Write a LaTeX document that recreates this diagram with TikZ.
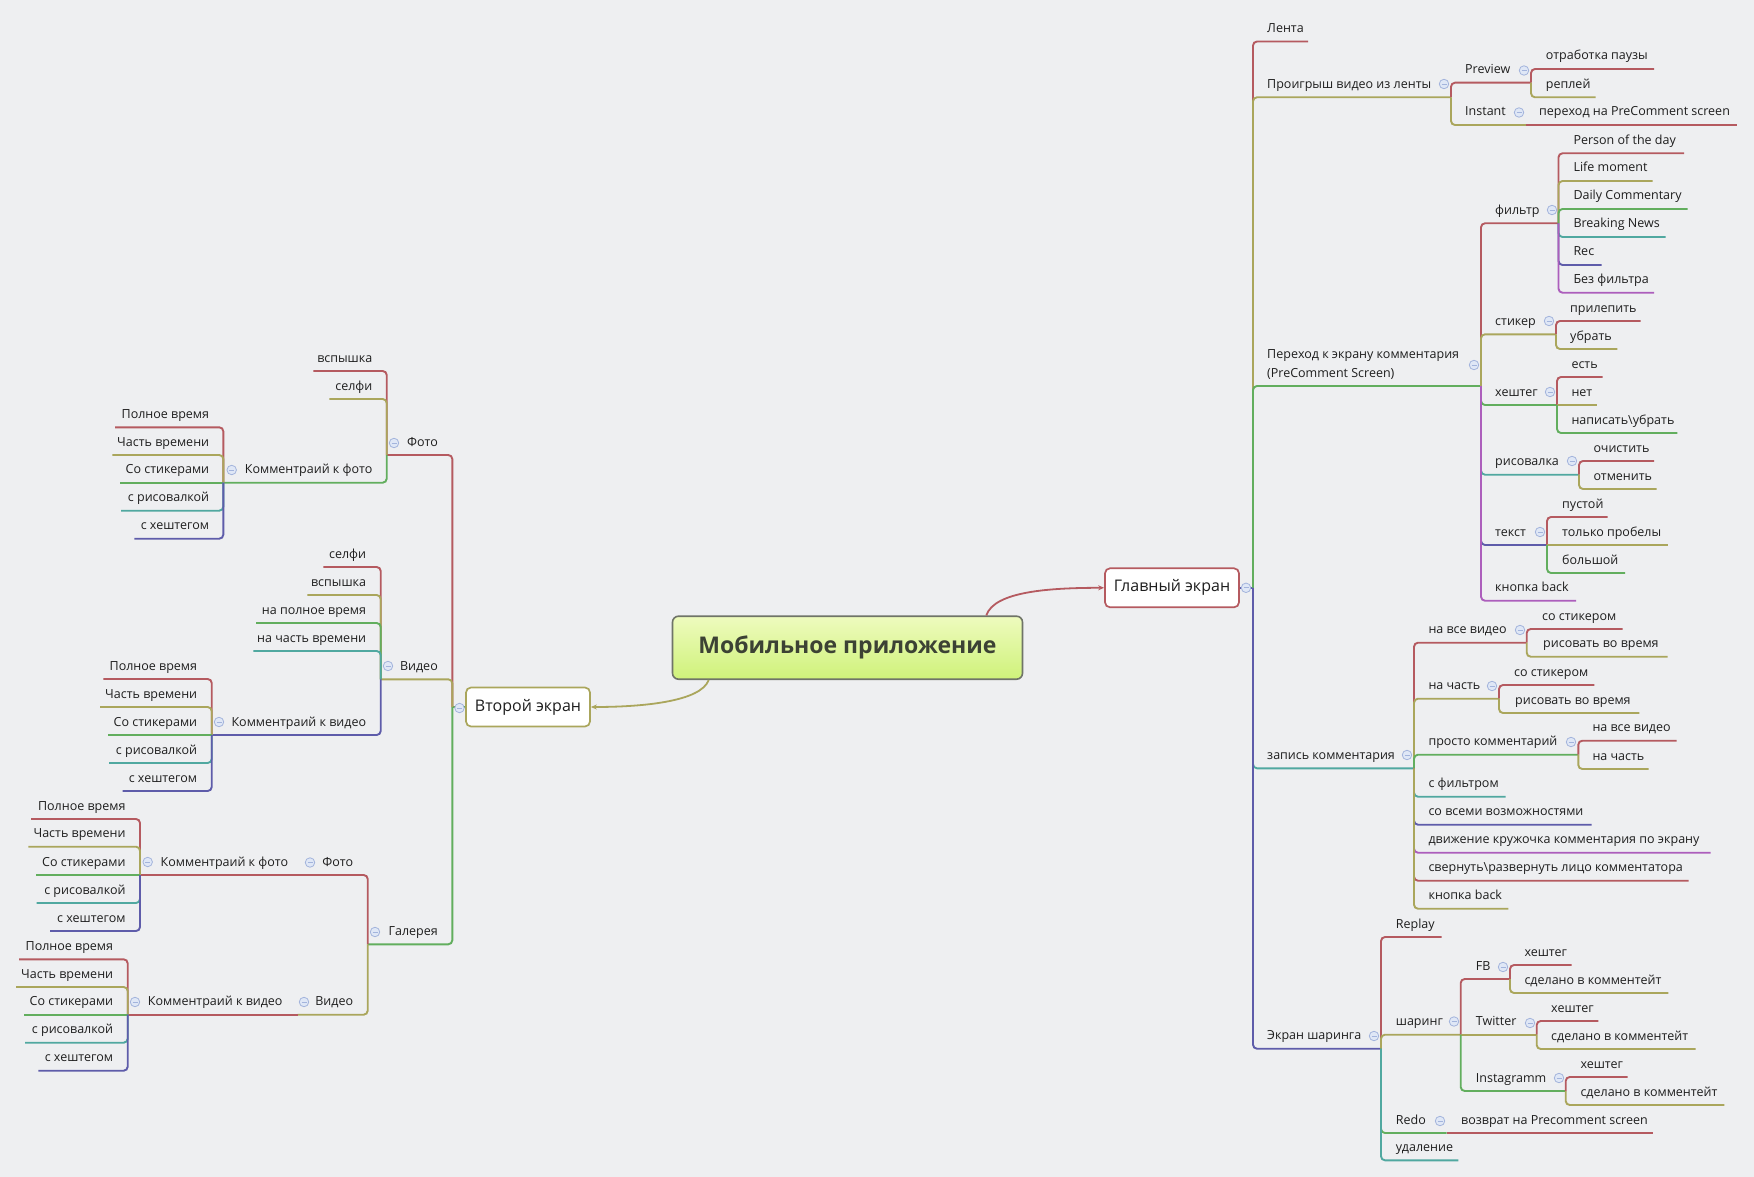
\documentclass[tikz,border=0pt]{standalone}
\usepackage{fontspec}
\setmainfont{Open Sans}
\usetikzlibrary{arrows.meta}
\definecolor{bgc}{HTML}{EEEFF1}
\definecolor{cr}{HTML}{B55A60}
\definecolor{co}{HTML}{AAA65C}
\definecolor{cg}{HTML}{62AE5E}
\definecolor{ct}{HTML}{50A8A0}
\definecolor{ci}{HTML}{5E5CAA}
\definecolor{cp}{HTML}{AC5EBC}
\definecolor{cfill}{HTML}{DFE7F6}
\definecolor{cbrd}{HTML}{A3B4DC}
\definecolor{txt}{HTML}{1E1E1E}
\definecolor{mtop}{HTML}{EEFBBE}
\definecolor{mbot}{HTML}{CFF27A}
\definecolor{mbrd}{HTML}{6F7468}
\definecolor{mtxt}{HTML}{3C4234}
\tikzset{
  link/.style={line width=1.9pt, rounded corners=4pt},
  lbl/.style={inner sep=0pt, text=txt, font=\fontsize{12.5}{15}\selectfont},
  coll/.style={circle, draw=cbrd, fill=cfill, line width=0.8pt, minimum size=9.5pt, inner sep=0pt,
    path picture={\draw[cbrd, line width=0.9pt] ([xshift=-2.5pt]path picture bounding box.center) -- ([xshift=2.5pt]path picture bounding box.center);}},
  topicbox/.style={fill=white, rounded corners=5pt, line width=1.7pt, inner sep=0pt, text=txt,
    font=\fontsize{16}{19}\selectfont},
  mainbox/.style={draw=mbrd, rounded corners=6pt, line width=1.6pt, top color=mtop, bottom color=mbot,
    minimum width=350pt, minimum height=63pt, inner sep=0pt, text=mtxt, font=\fontsize{23}{28}\selectfont\bfseries},
  curve/.style={line width=1.8pt, -{Stealth[length=6pt,width=5pt]}}
}
% right elbow / straight, left elbow / straight: id, parent, colour, underline y, underline end x, text x, text
\newcommand\rc[7]{\draw[link,#3] (#2) |- (#5,#4) coordinate (#1-j); \node[lbl,anchor=base west] (#1) at (#6,#4-9) {#7};}
\newcommand\rs[7]{\draw[link,#3] (#2) -- (#5,#4) coordinate (#1-j); \node[lbl,anchor=base west] (#1) at (#6,#4-9) {#7};}
\newcommand\lc[7]{\draw[link,#3] (#2) |- (#5,#4) coordinate (#1-j); \node[lbl,anchor=base east] (#1) at (#6,#4-9) {#7};}
\newcommand\ls[7]{\draw[link,#3] (#2) -- (#5,#4) coordinate (#1-j); \node[lbl,anchor=base east] (#1) at (#6,#4-9) {#7};}
\begin{document}
\begin{tikzpicture}[x=1pt,y=-1pt]
\useasboundingbox (0,0) rectangle (1754,1177);
\fill[bgc] (0,0) rectangle (1754,1177);

% central and main topics
\node[mainbox] (M) at (847.5,647.7) {Мобильное приложение};
\node[topicbox, draw=cr, minimum width=134pt, minimum height=39pt] (G) at (1172,587.8) {Главный экран};
\node[topicbox, draw=co, minimum width=124pt, minimum height=39pt] (V) at (528,707) {Второй экран};
\draw[curve, cr] ([xshift=-37pt]M.north east) .. controls +(8,-24) and +(-55,0) .. (G.west);
\draw[curve, co] ([xshift=37pt]M.south west) .. controls +(-8,22) and +(50,0) .. (V.east);

% ---------- right side ----------
\coordinate (gj) at (1253,587.8);
\draw[link,ci] (G.east) -- (gj);
\rc{lenta}{gj}{cr}{41.5}{1308}{1267}{Лента}
\rc{proig}{gj}{co}{97.3}{1451}{1267}{Проигрыш видео из ленты}
\draw[link,cg] (gj) |- (1481,386) coordinate (perehod-j);
\node[lbl, anchor=west, align=left, font=\fontsize{12.5}{18.4}\selectfont] (perehod) at (1267,364.5) {Переход к экрану комментария\\(PreComment Screen)};
\rc{zapis}{gj}{ct}{768.3}{1414}{1267}{запись комментария}
\rc{ekran}{gj}{ci}{1048.7}{1381}{1267}{Экран шаринга}

\rc{prev}{proig-j}{cr}{82.7}{1531}{1465}{Preview}
\rc{inst}{proig-j}{co}{125}{1526}{1465}{Instant}
\rc{p1}{prev-j}{cr}{69}{1654}{1545.7}{отработка паузы}
\rc{p2}{prev-j}{co}{97.3}{1595.7}{1545.7}{реплей}
\rs{i1}{inst-j}{cr}{125}{1737}{1539}{переход на PreComment screen}

\rc{filtr}{perehod-j}{cr}{223.3}{1558.5}{1495}{фильтр}
\rc{stik}{perehod-j}{co}{334.3}{1556}{1495}{стикер}
\rc{hesh}{perehod-j}{cg}{405}{1557}{1495}{хештег}
\rc{risov}{perehod-j}{ct}{474.7}{1579}{1495}{рисовалка}
\rc{tekst}{perehod-j}{ci}{545}{1547}{1495}{текст}
\rc{back1}{perehod-j}{cp}{600.7}{1576}{1495}{кнопка back}

\rc{f1}{filtr-j}{cr}{153.3}{1684}{1573.3}{Person of the day}
\rc{f2}{filtr-j}{co}{181}{1652.7}{1573.3}{Life moment}
\rc{f3}{filtr-j}{cg}{209}{1687.7}{1573.3}{Daily Commentary}
\rc{f4}{filtr-j}{ct}{237}{1665.7}{1573.3}{Breaking News}
\rc{f5}{filtr-j}{ci}{265}{1601.7}{1573.3}{Rec}
\rc{f6}{filtr-j}{cp}{292.7}{1654}{1573.3}{Без фильтра}

\rc{s1}{stik-j}{cr}{321}{1640.7}{1570}{прилепить}
\rc{s2}{stik-j}{co}{349}{1617.3}{1570}{убрать}

\rc{h1}{hesh-j}{cr}{377}{1602.7}{1571.3}{есть}
\rs{h2}{hesh-j}{co}{405}{1597.3}{1571.3}{нет}
\rc{h3}{hesh-j}{cg}{433}{1677.3}{1571.3}{написать\textbackslash убрать}

\rc{r1}{risov-j}{cr}{461}{1654}{1593.3}{очистить}
\rc{r2}{risov-j}{co}{489}{1656.7}{1593.3}{отменить}

\rc{t1}{tekst-j}{cr}{517}{1607.7}{1562}{пустой}
\rs{t2}{tekst-j}{co}{545}{1667.7}{1562}{только пробелы}
\rc{t3}{tekst-j}{cg}{573}{1625}{1562}{большой}

\rc{navse}{zapis-j}{cr}{642.7}{1526.7}{1428.3}{на все видео}
\rc{nach}{zapis-j}{co}{698.7}{1499}{1428.3}{на часть}
\rc{prosto}{zapis-j}{cg}{754.7}{1578.3}{1428.3}{просто комментарий}
\rc{z4}{zapis-j}{ct}{796.7}{1505.7}{1428.3}{с фильтром}
\rc{z5}{zapis-j}{ci}{824.7}{1591.7}{1428.3}{со всеми возможностями}
\rc{z6}{zapis-j}{cp}{852.7}{1710.7}{1428.3}{движение кружочка комментария по экрану}
\rc{z7}{zapis-j}{cr}{880.7}{1688.7}{1428.3}{свернуть\textbackslash развернуть лицо комментатора}
\rc{z8}{zapis-j}{co}{908.7}{1508.3}{1428.3}{кнопка back}

\rc{nv1}{navse-j}{cr}{629}{1622.7}{1542}{со стикером}
\rc{nv2}{navse-j}{co}{656.7}{1667.7}{1543}{рисовать во время}
\rc{nc1}{nach-j}{cr}{685}{1594.3}{1514}{со стикером}
\rc{nc2}{nach-j}{co}{713}{1639.3}{1515}{рисовать во время}
\rc{pk1}{prosto-j}{cr}{740.7}{1676.7}{1592.3}{на все видео}
\rc{pk2}{prosto-j}{co}{769}{1648.7}{1592.3}{на часть}

\rc{replay}{ekran-j}{cr}{937}{1441.7}{1395.7}{Replay}
\rc{shar}{ekran-j}{co}{1034.7}{1460.7}{1395.7}{шаринг}
\rc{redo}{ekran-j}{cg}{1133}{1446.7}{1395.7}{Redo}
\rc{udal}{ekran-j}{ct}{1160.3}{1458.3}{1395.7}{удаление}

\rc{fb}{shar-j}{cr}{979}{1510}{1475.7}{FB}
\rs{tw}{shar-j}{co}{1034.7}{1536.7}{1475.7}{Twitter}
\rc{ig}{shar-j}{cg}{1091}{1565.7}{1475.7}{Instagramm}

\rc{fb1}{fb-j}{cr}{965}{1571.7}{1524.3}{хештег}
\rc{fb2}{fb-j}{co}{993}{1668.3}{1524.3}{сделано в комментейт}
\rc{tw1}{tw-j}{cr}{1021}{1598.3}{1551}{хештег}
\rc{tw2}{tw-j}{co}{1049}{1695.7}{1551}{сделано в комментейт}
\rc{ig1}{ig-j}{cr}{1077}{1627.7}{1580.3}{хештег}
\rc{ig2}{ig-j}{co}{1105}{1724.3}{1580.3}{сделано в комментейт}
\rs{redo1}{redo-j}{cr}{1133}{1653.3}{1461}{возврат на Precomment screen}

% ---------- left side ----------
\coordinate (vj) at (452.3,707);
\draw[link,cg] (V.west) -- (vj);
\lc{foto}{vj}{cr}{455}{386.7}{438}{Фото}
\lc{video}{vj}{co}{679.3}{380.7}{438}{Видео}
\lc{gal}{vj}{cg}{944.3}{367.7}{438}{Галерея}

\lc{fo1}{foto-j}{cr}{371}{313.3}{372.5}{вспышка}
\lc{fo2}{foto-j}{co}{399}{329.3}{372.5}{селфи}
\lc{kf1}{foto-j}{cg}{482.7}{223.3}{372.5}{Комментраий к фото}
\lc{a1}{kf1-j}{cr}{427.3}{115}{209.3}{Полное время}
\lc{a2}{kf1-j}{co}{455}{112.3}{209.3}{Часть времени}
\ls{a3}{kf1-j}{cg}{482.7}{120}{209.3}{Со стикерами}
\lc{a4}{kf1-j}{ct}{510.7}{121}{209.3}{с рисовалкой}
\lc{a5}{kf1-j}{ci}{538.7}{134.3}{209.3}{с хештегом}

\lc{vi1}{video-j}{cr}{567}{323.3}{366.3}{селфи}
\lc{vi2}{video-j}{co}{595}{307.3}{366.3}{вспышка}
\lc{vi3}{video-j}{cg}{623}{256}{366.3}{на полное время}
\lc{vi4}{video-j}{ct}{651}{253.3}{366.3}{на часть времени}
\lc{kv1}{video-j}{ci}{735}{211.7}{366.3}{Комментраий к видео}
\lc{b1}{kv1-j}{cr}{679}{103.3}{197.3}{Полное время}
\lc{b2}{kv1-j}{co}{707}{100}{197.3}{Часть времени}
\ls{b3}{kv1-j}{cg}{735}{108.3}{197.3}{Со стикерами}
\lc{b4}{kv1-j}{ct}{763}{109}{197.3}{с рисовалкой}
\lc{b5}{kv1-j}{ci}{791}{122.7}{197.3}{с хештегом}

\lc{gf}{gal-j}{cr}{875}{303}{353.3}{Фото}
\lc{gv}{gal-j}{co}{1014.7}{297.7}{353.3}{Видео}
\ls{kf2}{gf-j}{cr}{875}{140}{288.3}{Комментраий к фото}
\ls{kv2}{gv-j}{cr}{1014.7}{127.7}{282.7}{Комментраий к видео}
\lc{c1}{kf2-j}{cr}{819}{31}{125.7}{Полное время}
\lc{c2}{kf2-j}{co}{846.7}{28.3}{125.7}{Часть времени}
\ls{c3}{kf2-j}{cg}{875}{36}{125.7}{Со стикерами}
\lc{c4}{kf2-j}{ct}{903}{36.7}{125.7}{с рисовалкой}
\lc{c5}{kf2-j}{ci}{931}{50}{125.7}{с хештегом}
\lc{d1}{kv2-j}{cr}{959.3}{19}{113.3}{Полное время}
\lc{d2}{kv2-j}{co}{987}{16}{113.3}{Часть времени}
\ls{d3}{kv2-j}{cg}{1014.7}{24}{113.3}{Со стикерами}
\lc{d4}{kv2-j}{ct}{1042.7}{25}{113.3}{с рисовалкой}
\lc{d5}{kv2-j}{ci}{1070.7}{38.3}{113.3}{с хештегом}

% ---------- collapse markers ----------
\node[coll] (kG) at (1246,587.8) {};
\node[coll] (kproig) at (1444,84) {};
\node[coll] (kprev) at (1524,70.5) {};
\node[coll] (kinst) at (1519,112.5) {};
\node[coll] (kperehod) at (1474,365) {};
\node[coll] (kfiltr) at (1552,210) {};
\node[coll] (kstik) at (1549,321) {};
\node[coll] (khesh) at (1550,392) {};
\node[coll] (krisov) at (1572,461) {};
\node[coll] (ktekst) at (1540,532) {};
\node[coll] (kzapis) at (1407,755) {};
\node[coll] (knavse) at (1520,630) {};
\node[coll] (knach) at (1492,686) {};
\node[coll] (kprosto) at (1571,742) {};
\node[coll] (kekran) at (1374,1036) {};
\node[coll] (kshar) at (1454,1021.5) {};
\node[coll] (kfb) at (1503,967) {};
\node[coll] (ktw) at (1530,1023) {};
\node[coll] (kig) at (1559,1078) {};
\node[coll] (kredo) at (1440,1121) {};
\node[coll] (kV) at (459.5,708) {};
\node[coll] (kfoto) at (394,443) {};
\node[coll] (kkf1) at (231.7,470) {};
\node[coll] (kvideo) at (388,666) {};
\node[coll] (kkv1) at (219,722) {};
\node[coll] (kgal) at (375,932) {};
\node[coll] (kgf) at (310,862.5) {};
\node[coll] (kkf2) at (147.7,862) {};
\node[coll] (kgv) at (304,1002) {};
\node[coll] (kkv2) at (135,1002) {};
\end{tikzpicture}
\end{document}
